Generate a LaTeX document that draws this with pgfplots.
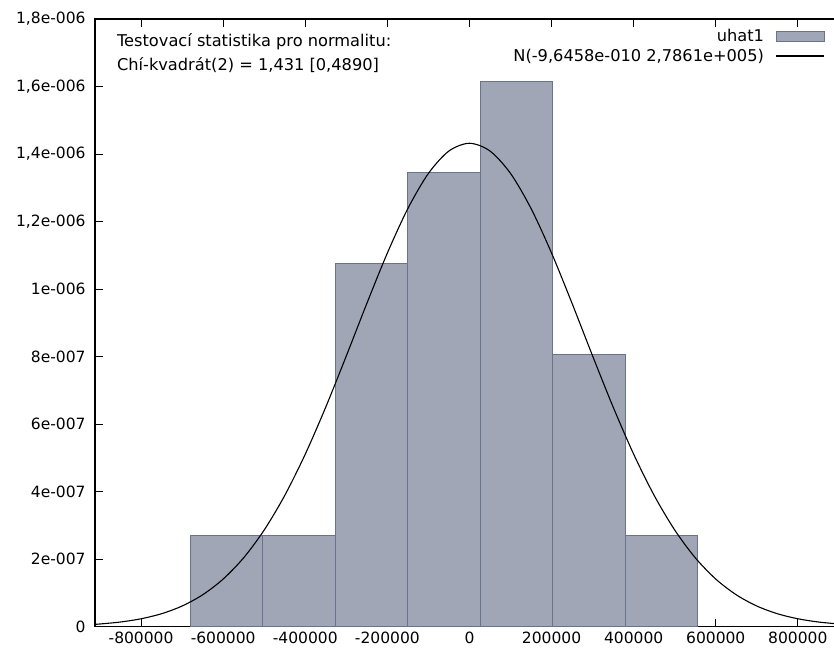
\documentclass[border=0pt]{standalone}
\usepackage{fontspec}
\setmainfont{DejaVu Sans}
\usepackage{pgfplots}
\pgfplotsset{compat=1.18}
\definecolor{barfill}{RGB}{160,166,182}
\definecolor{baredge}{RGB}{105,115,140}
\pgfplotsset{
    barlegend/.style={legend image code/.code={\path[draw=none,fill=none] (0pt,0pt) -- (10pt,0pt);
        \draw[##1] (10pt,-5pt) rectangle (58pt,5pt);}},
    linelegend/.style={legend image code/.code={\path[draw=none,fill=none] (0pt,0pt) -- (10pt,0pt);
        \draw[##1] (10pt,0pt) -- (58pt,0pt);}},
}

\begin{document}
\begin{tikzpicture}
\begin{axis}[
    name=ax,
    scale only axis,
    width=739pt, height=607pt,
    xmin=-912000, xmax=890000,
    ymin=0, ymax=1.8e-6,
    axis line style={line width=1.3pt},
    tick style={black, line width=1pt},
    major tick length=8pt,
    tick align=inside,
    ytick pos=left,
    xtick={-800000,-600000,-400000,-200000,0,200000,400000,600000,800000},
    xticklabels={-800000,-600000,-400000,-200000,0,200000,400000,600000,800000},
    ytick={0,2e-7,4e-7,6e-7,8e-7,1e-6,1.2e-6,1.4e-6,1.6e-6,1.8e-6},
    yticklabels={0,2e-007,4e-007,6e-007,8e-007,1e-006,{1,2e-006},{1,4e-006},{1,6e-006},{1,8e-006}},
    scaled x ticks=false, scaled y ticks=false,
    tick label style={font=\fontsize{15.5}{18}\selectfont},
    yticklabel style={xshift=-6pt},
    xticklabel style={yshift=-2pt},
    legend style={at={(axis description cs:1,1)}, anchor=north east,
        xshift=-7pt, yshift=-6pt, draw=none, fill=none,
        font=\fontsize{16.2}{19}\selectfont, row sep=2pt},
    legend cell align=right,
    legend plot pos=right,
]
% histogram, density scale (n = 21, bin width ~176600)
\addplot[ybar interval, fill=barfill, draw=baredge, line width=0.8pt, barlegend]
coordinates {
    (-680500,2.690e-7) (-503900,2.690e-7) (-327400,1.0761e-6)
    (-150800,1.3451e-6) (25700,1.6142e-6) (202300,8.071e-7)
    (378900,2.690e-7) (555400,2.690e-7)
};
\addlegendentry{uhat1}
% normal density N(0, 278610)
\addplot[black, line width=1.1pt, smooth, linelegend]
coordinates {
    (-920000,6.14e-9) (-900000,7.76e-9) (-850000,1.364e-8) (-800000,2.321e-8)
    (-750000,3.822e-8) (-700000,6.098e-8) (-650000,9.419e-8) (-600000,1.4087e-7)
    (-550000,2.040e-7) (-500000,2.862e-7) (-450000,3.885e-7) (-400000,5.108e-7)
    (-350000,6.505e-7) (-300000,8.019e-7) (-250000,9.574e-7) (-200000,1.1067e-6)
    (-150000,1.2387e-6) (-100000,1.3426e-6) (-50000,1.4090e-6) (0,1.4319e-6)
    (50000,1.4090e-6) (100000,1.3426e-6) (150000,1.2387e-6) (200000,1.1067e-6)
    (250000,9.574e-7) (300000,8.019e-7) (350000,6.505e-7) (400000,5.108e-7)
    (450000,3.885e-7) (500000,2.862e-7) (550000,2.040e-7) (600000,1.4087e-7)
    (650000,9.419e-8) (700000,6.098e-8) (750000,3.822e-8) (800000,2.321e-8)
    (850000,1.364e-8) (900000,7.76e-9) (920000,6.14e-9)
};
\addlegendentry{N(-9,6458e-010 2,7861e+005)}
\node[anchor=base west, inner sep=0pt, font=\fontsize{16.2}{19}\selectfont]
    at (axis description cs:0.0294,0.9555) {Testovací statistika pro normalitu:};
\node[anchor=base west, inner sep=0pt, font=\fontsize{16.2}{19}\selectfont]
    at (axis description cs:0.0294,0.916) {Chí-kvadrát(2) = 1,431 [0,4890]};
\end{axis}
\pgfresetboundingbox
\path[use as bounding box] ([shift={(-95pt,-25pt)}]ax.south west)
    rectangle ([shift={(-0.8pt,19pt)}]ax.north east);
\end{tikzpicture}
\end{document}
